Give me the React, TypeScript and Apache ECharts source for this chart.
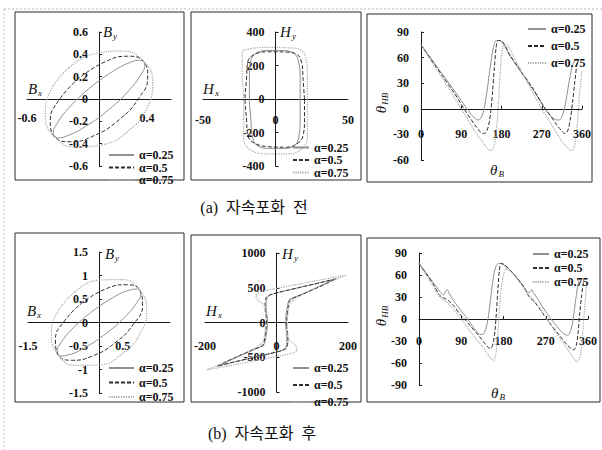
import React, { useEffect, useRef } from 'react';
import * as echarts from 'echarts';

// ---------- names ----------
const alphaNames = ['α=0.25', 'α=0.5', 'α=0.75'];

// ---------- tick labels ----------
const p1XLabels = [-0.6, 0.4];
const p1YLabels = [-0.6, -0.4, -0.2, 0, 0.2, 0.4, 0.6];
const p2XLabels = [-50, 0, 50];
const p2YLabels = [-400, -200, 0, 200, 400];
const p3XLabels = [0, 90, 180, 270, 360];
const p3YLabels = [-60, -30, 0, 30, 60, 90];
const p4XLabels = [-1.5, 0.5];
const p4YLabels = [-1.5, -1, -0.5, 0, 0.5, 1, 1.5];
const p5XLabels = [-200, 0, 200];
const p5YLabels = [-1000, -500, 0, 500, 1000];
const p6XLabels = [0, 90, 180, 270, 360];
const p6YLabels = [-90, -60, -30, 0, 30, 60, 90];

// ---------- (a) before saturation: B locus ----------
const bBefore025 = [[-0.084,0.093],[-0.258,-0.087],[-0.364,-0.244],[-0.381,-0.299],[-0.372,-0.335],[-0.337,-0.347],[-0.28,-0.336],[-0.114,-0.247],[0.084,-0.093],[0.258,0.087],[0.364,0.244],[0.381,0.299],[0.372,0.335],[0.337,0.347],[0.28,0.336],[0.114,0.247],[-0.084,0.093]];
const bBefore050 = [[-0.167,0.186],[-0.331,-0.006],[-0.406,-0.197],[-0.372,-0.335],[-0.238,-0.383],[-0.041,-0.328],[0.167,-0.186],[0.331,0.006],[0.406,0.197],[0.372,0.335],[0.238,0.383],[0.041,0.328],[-0.167,0.186]];
const bBefore075 = [[-0.251,0.279],[-0.403,0.074],[-0.447,-0.151],[-0.372,-0.335],[-0.197,-0.429],[0.031,-0.408],[0.251,-0.279],[0.403,-0.074],[0.447,0.151],[0.372,0.335],[0.197,0.429],[-0.031,0.408],[-0.251,0.279]];

// ---------- (a) H locus ----------
const hBefore025 = [[17,0],[17,120],[16,220],[13,270],[5,290],[-5,290],[-13,275],[-17,230],[-18,120],[-18,0],[-17,-120],[-16,-220],[-13,-275],[-5,-295],[5,-295],[13,-280],[16,-230],[17,-120],[17,0]];
const hBefore050 = [[20,0],[19,120],[18,220],[15,265],[8,280],[-5,282],[-14,268],[-19,225],[-20,120],[-21,0],[-20,-120],[-19,-220],[-15,-262],[-5,-285],[8,-288],[16,-260],[19,-220],[20,-120],[20,0]];
const hBefore075 = [[22,0],[22,130],[21,240],[18,290],[10,305],[-5,308],[-18,300],[-23,275],[-23,150],[-22,0],[-22,-130],[-22,-230],[-18,-300],[-5,-328],[10,-328],[19,-290],[22,-230],[22,-130],[22,0]];

// ---------- (a) theta_HB vs theta_B ----------
const angBefore025 = [[0,75],[25,57],[50,39],[75,21],[100,2],[110,-5],[120,-11],[128,-13],[135,-10],[141,0],[148,22],[155,50],[162,72],[168,80],[175,80],[200,61],[225,42],[250,23],[270,6],[280,-2],[292,-9],[303,-13],[310,-13],[316,-8],[322,3],[330,28],[338,50],[343,56]];
const angBefore050 = [[0,75],[25,56],[50,37],[75,18],[95,1],[110,-11],[125,-22],[138,-29],[145,-28],[151,-20],[156,-3],[160,20],[164,48],[168,72],[172,80],[178,80],[200,62],[225,43],[250,24],[272,5],[285,-5],[300,-16],[313,-25],[322,-29],[328,-26],[334,-12],[339,8],[344,32],[348,50],[350,54]];
const angBefore075 = [[0,75],[25,54],[50,34],[75,13],[90,0],[105,-13],[120,-26],[135,-37],[148,-46],[156,-49],[162,-46],[167,-32],[171,-10],[174,15],[177,40],[180,62],[184,74],[190,75],[210,58],[230,39],[250,19],[270,0],[285,-13],[300,-26],[315,-38],[328,-46],[336,-49],[342,-46],[347,-30],[351,-8],[355,20],[360,45]];

// ---------- (b) after saturation: B locus ----------
const bAfter025 = [[-0.169,0.217],[-0.58,-0.151],[-0.836,-0.479],[-0.882,-0.599],[-0.867,-0.678],[-0.794,-0.711],[-0.666,-0.695],[-0.288,-0.527],[0.169,-0.217],[0.58,0.151],[0.836,0.479],[0.882,0.599],[0.867,0.678],[0.794,0.711],[0.666,0.695],[0.288,0.527],[-0.169,0.217]];
const bAfter050 = [[-0.339,0.433],[-0.727,0.036],[-0.92,-0.37],[-0.867,-0.678],[-0.582,-0.804],[-0.141,-0.714],[0.339,-0.433],[0.727,-0.036],[0.92,0.37],[0.867,0.678],[0.582,0.804],[0.141,0.714],[-0.339,0.433]];
const bAfter075 = [[-0.508,0.65],[-0.874,0.224],[-1.005,-0.262],[-0.867,-0.678],[-0.497,-0.912],[0.006,-0.902],[0.508,-0.65],[0.874,-0.224],[1.005,0.262],[0.867,0.678],[0.497,0.912],[-0.006,0.902],[-0.508,0.65]];

// ---------- (b) H locus ----------
const hAfter025 = [[25,-60],[26,80],[29,200],[35,320],[65,395],[105,485],[135,555],[160,620],[115,565],[65,505],[15,445],[-15,400],[-26,360],[-29,270],[-28,150],[-25,60],[-26,-80],[-29,-200],[-35,-320],[-65,-395],[-105,-485],[-135,-555],[-160,-620],[-115,-565],[-65,-505],[-15,-445],[15,-400],[26,-360],[29,-270],[28,-150],[25,-60]];
const hAfter050 = [[28,-60],[29,80],[32,200],[38,330],[70,400],[110,490],[140,560],[167,630],[120,570],[70,510],[20,450],[-15,405],[-28,370],[-32,280],[-31,150],[-28,60],[-29,-80],[-32,-200],[-38,-330],[-70,-400],[-110,-490],[-140,-560],[-167,-630],[-120,-570],[-70,-510],[-20,-450],[15,-405],[28,-370],[32,-280],[31,-150],[28,-60]];
const hAfter075 = [[30,-80],[31,80],[34,200],[40,300],[80,420],[130,550],[195,680],[120,610],[50,540],[-10,480],[-45,440],[-58,390],[-52,320],[-35,250],[-30,120],[-30,80],[-31,-80],[-34,-200],[-40,-300],[-80,-420],[-130,-550],[-195,-680],[-120,-610],[-50,-540],[10,-480],[45,-440],[58,-390],[52,-320],[35,-250],[30,-120],[30,-80]];

// ---------- (b) theta_HB vs theta_B ----------
const angAfter025 = [[0,76],[15,63],[30,50],[45,37],[52,33],[57,38],[60,40],[65,34],[75,24],[90,11],[100,3],[110,-6],[120,-15],[130,-21],[136,-21],[142,-14],[147,0],[152,25],[158,55],[164,72],[171,76],[180,74],[195,66],[210,55],[222,45],[232,36],[237,37],[240,40],[245,35],[255,25],[270,10],[280,1],[290,-7],[300,-15],[310,-21],[317,-22],[323,-16],[328,-2],[333,22],[338,45],[342,55]];
const angAfter050 = [[0,76],[15,62],[30,48],[42,34],[48,30],[55,28],[65,24],[75,17],[88,6],[97,0],[110,-10],[125,-21],[140,-33],[148,-39],[153,-40],[158,-33],[162,-15],[165,10],[168,40],[171,65],[175,76],[182,74],[195,66],[210,55],[225,42],[235,30],[245,24],[258,13],[272,0],[285,-11],[300,-23],[315,-35],[325,-41],[330,-42],[335,-36],[339,-18],[342,5],[346,30],[350,50]];
const angAfter075 = [[0,76],[15,60],[30,45],[42,32],[50,27],[60,22],[75,12],[90,0],[105,-13],[120,-26],[135,-38],[147,-49],[155,-55],[159,-56],[163,-50],[166,-35],[169,-10],[172,20],[176,45],[180,60],[185,68],[192,67],[205,58],[220,45],[235,32],[245,25],[258,14],[270,2],[285,-12],[300,-26],[315,-40],[328,-52],[337,-58],[341,-56],[345,-45],[348,-25],[351,0],[354,25],[358,50]];

const SERIF = "'Liberation Serif', 'Times New Roman', serif";
const CAPTION_FONT = "'Liberation Serif', 'Noto Sans CJK KR', serif";

const lineStyles = [
  { color: '#909090', type: 'solid', width: 1 },
  { color: '#2e2e2e', type: [4, 2], width: 1 },
  { color: '#a8a8a8', type: [1.2, 1.2], width: 1.2 },
];

function fmt(shown: number[]) {
  return (v: number) => {
    const hit = shown.find((s) => Math.abs(s - v) < 1e-6);
    return hit === undefined ? '' : String(hit);
  };
}

function axis(gridIndex: number, min: number, max: number, interval: number, shown: number[], margin: number, showTick: boolean, offset: number) {
  return {
    type: 'value',
    gridIndex, min, max, interval, offset,
    axisLine: { show: true, onZero: false, lineStyle: { color: '#1a1a1a', width: 1 } },
    axisTick: { show: showTick, inside: true, length: 3, lineStyle: { color: '#1a1a1a' } },
    splitLine: { show: false },
    axisLabel: {
      show: true, margin, fontFamily: SERIF, fontWeight: 'bold', fontSize: 12, color: '#111',
      formatter: fmt(shown),
    },
  };
}

function series(name: string, data: number[][], idx: number, style: any, smooth: number) {
  return {
    type: 'line', name, data, xAxisIndex: idx, yAxisIndex: idx,
    symbol: 'none', smooth,
    lineStyle: { color: style.color, type: style.type, width: style.width },
    itemStyle: { color: style.color },
  };
}

function legend(left: number, top: number, itemWidth: number, gap: number, lh: number) {
  return {
    orient: 'vertical', left, top, itemWidth, itemHeight: 8, itemGap: gap, padding: 0,
    data: alphaNames,
    itemStyle: { opacity: 0 },
    textStyle: { fontFamily: SERIF, fontWeight: 'bold', fontSize: 12, color: '#111', lineHeight: lh },
  };
}

function sub(x: number, y: number, main: string, s: string, rot = 0) {
  return {
    type: 'text', x, y, rotation: rot,
    style: {
      text: `{m|${main}}{s|${s}}`,
      align: 'center', verticalAlign: 'middle',
      rich: {
        m: { fontFamily: SERIF, fontStyle: 'italic', fontSize: 15, fill: '#111' },
        s: { fontFamily: SERIF, fontStyle: 'italic', fontSize: 9, fill: '#111', padding: [7, 0, 0, 1] },
      },
    },
  };
}

function box(x: number, y: number, w: number, h: number) {
  return { type: 'rect', shape: { x, y, width: w, height: h }, style: { fill: 'none', stroke: '#2a2a2a', lineWidth: 1 } };
}

export default function App() {
  const ref = useRef<HTMLDivElement>(null);
  useEffect(() => {
    if (!ref.current) return;
    const chart = echarts.init(ref.current, undefined, { renderer: 'svg' });
    const option: any = {
      animation: false,
      backgroundColor: '#ffffff',
      grid: [
        { left: 27, top: 32, width: 144, height: 134, outerBoundsMode: 'none' },
        { left: 203, top: 32, width: 145, height: 134, outerBoundsMode: 'none' },
        { left: 421, top: 32, width: 161, height: 128, outerBoundsMode: 'none' },
        { left: 28, top: 252, width: 142, height: 141, outerBoundsMode: 'none' },
        { left: 205, top: 253, width: 143, height: 139, outerBoundsMode: 'none' },
        { left: 419, top: 253, width: 169, height: 132, outerBoundsMode: 'none' },
      ],
      xAxis: [
        axis(0, -0.6, 0.6, 0.2, p1XLabels, 13, false, -67),
        axis(1, -50, 50, 50, p2XLabels, 15, false, -67),
        axis(2, 0, 360, 90, p3XLabels, 19, true, -51.2),
        axis(3, -1.5, 1.5, 0.5, p4XLabels, 17, false, -70.5),
        axis(4, -200, 200, 200, p5XLabels, 17, false, -69.5),
        axis(5, 0, 360, 90, p6XLabels, 16, true, -66),
      ],
      yAxis: [
        axis(0, -0.6, 0.6, 0.2, p1YLabels, 11, true, -72),
        axis(1, -400, 400, 200, p2YLabels, 11, true, -72.5),
        axis(2, -60, 90, 30, p3YLabels, 12, true, 0),
        axis(3, -1.5, 1.5, 0.5, p4YLabels, 11, true, -71),
        axis(4, -1000, 1000, 500, p5YLabels, 11, true, -71.5),
        axis(5, -90, 90, 30, p6YLabels, 12, true, 0),
      ],
      legend: [
        legend(108, 149, 25, 0.5, 10),
        legend(292, 141.5, 16, 0.5, 9),
        legend(527, 23, 18, 5, 10),
        legend(108, 362, 25, 2.5, 10),
        legend(292, 362, 16, 5, 10),
        legend(532, 248, 16, 2, 10),
      ],
      series: [
        series(alphaNames[0], bBefore025, 0, lineStyles[0], 0.5),
        series(alphaNames[1], bBefore050, 0, lineStyles[1], 0.5),
        series(alphaNames[2], bBefore075, 0, lineStyles[2], 0.5),
        series(alphaNames[0], hBefore025, 1, lineStyles[0], 0.4),
        series(alphaNames[1], hBefore050, 1, lineStyles[1], 0.4),
        series(alphaNames[2], hBefore075, 1, lineStyles[2], 0.4),
        series(alphaNames[0], angBefore025, 2, lineStyles[0], 0.3),
        series(alphaNames[1], angBefore050, 2, lineStyles[1], 0.3),
        series(alphaNames[2], angBefore075, 2, lineStyles[2], 0.3),
        series(alphaNames[0], bAfter025, 3, lineStyles[0], 0.5),
        series(alphaNames[1], bAfter050, 3, lineStyles[1], 0.5),
        series(alphaNames[2], bAfter075, 3, lineStyles[2], 0.5),
        series(alphaNames[0], hAfter025, 4, lineStyles[0], 0.15),
        series(alphaNames[1], hAfter050, 4, lineStyles[1], 0.15),
        series(alphaNames[2], hAfter075, 4, lineStyles[2], 0.15),
        series(alphaNames[0], angAfter025, 5, lineStyles[0], 0.3),
        series(alphaNames[1], angAfter050, 5, lineStyles[1], 0.3),
        series(alphaNames[2], angAfter075, 5, lineStyles[2], 0.3),
      ],
      graphic: [
        { type: 'line', shape: { x1: 4, y1: 9, x2: 602, y2: 9 }, style: { stroke: '#bbbbbb', lineWidth: 1, lineDash: [2, 2] } },
        { type: 'line', shape: { x1: 4, y1: 9, x2: 4, y2: 450 }, style: { stroke: '#bbbbbb', lineWidth: 1, lineDash: [2, 2] } },
        box(15, 12, 169, 168),
        box(191, 12, 170, 168),
        box(367, 14, 225, 168),
        box(15, 233, 169, 169),
        box(191, 235, 170, 167),
        box(367, 238, 233, 164),
        sub(110, 32, 'B', 'y'),
        sub(35, 89, 'B', 'x'),
        sub(288, 32, 'H', 'y'),
        sub(211, 89, 'H', 'x'),
        sub(381, 103, 'θ', 'HB', Math.PI / 2),
        sub(497, 170, 'θ', 'B'),
        sub(112, 254, 'B', 'y'),
        sub(34, 311, 'B', 'x'),
        sub(290, 254, 'H', 'y'),
        sub(214, 311, 'H', 'x'),
        sub(381, 316, 'θ', 'HB', Math.PI / 2),
        sub(498, 393, 'θ', 'B'),
        {
          type: 'text', x: 254, y: 207,
          style: { text: '(a)  자속포화  전', align: 'center', verticalAlign: 'middle', fontFamily: CAPTION_FONT, fontSize: 16, fill: '#111' },
        },
        {
          type: 'text', x: 262, y: 433,
          style: { text: '(b)  자속포화  후', align: 'center', verticalAlign: 'middle', fontFamily: CAPTION_FONT, fontSize: 16, fill: '#111' },
        },
      ],
    };
    chart.setOption(option);
    return () => chart.dispose();
  }, []);
  return <div ref={ref} style={{ position: 'absolute', left: 0, top: 0, width: 602, height: 450, background: '#fff' }} />;
}
